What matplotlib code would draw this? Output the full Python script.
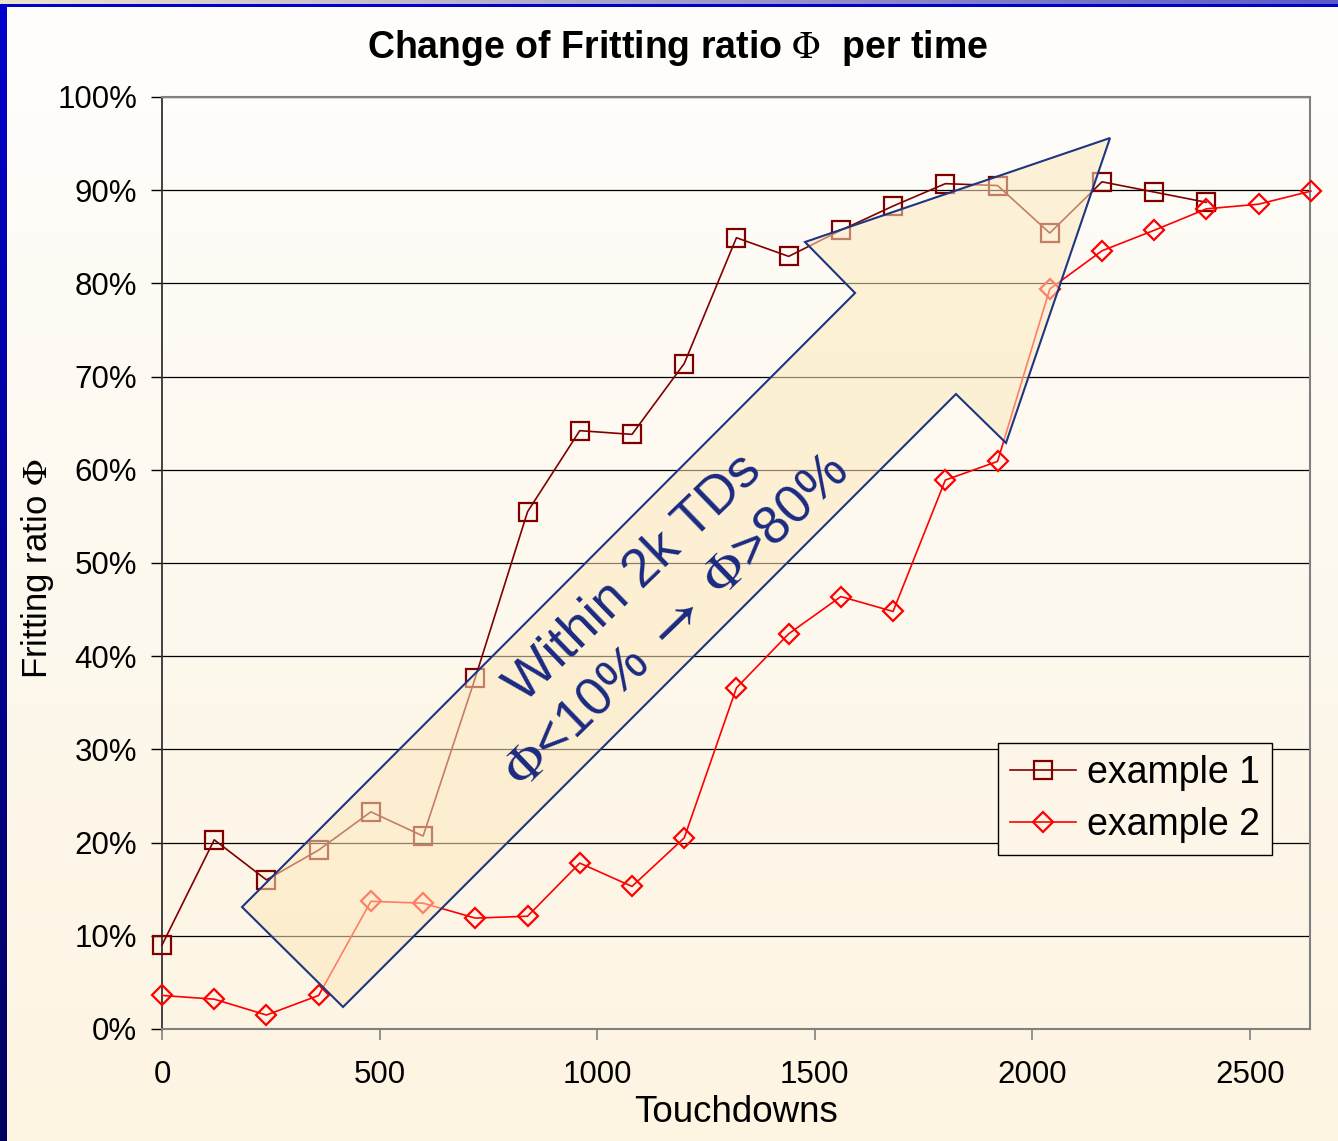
import numpy as np
import matplotlib
matplotlib.use('Agg')
import matplotlib.pyplot as plt
from matplotlib.patches import Polygon

plt.rcParams['font.family'] = ['Liberation Sans', 'DejaVu Sans']
plt.rcParams['mathtext.fontset'] = 'stix'

# ---------------- data ----------------
touchdowns_1 = [0, 120, 240, 360, 480, 600, 720, 840, 960, 1080, 1200,
                1320, 1440, 1560, 1680, 1800, 1920, 2040, 2160, 2280, 2400]
ratio_1 = [9.0, 20.3, 16.0, 19.2, 23.3, 20.7, 37.7, 55.5, 64.2, 63.8, 71.4,
           84.9, 82.9, 85.7, 88.3, 90.7, 90.5, 85.4, 90.9, 89.8, 88.7]

touchdowns_2 = [0, 120, 240, 360, 480, 600, 720, 840, 960, 1080, 1200,
                1320, 1440, 1560, 1680, 1800, 1920, 2040, 2160, 2280, 2400,
                2520, 2640]
ratio_2 = [3.6, 3.2, 1.5, 3.6, 13.7, 13.5, 11.9, 12.1, 17.8, 15.3, 20.5,
           36.6, 42.4, 46.4, 44.8, 58.9, 60.9, 79.4, 83.5, 85.7, 88.0,
           88.5, 89.9]

series_names = ['example 1', 'example 2']
x_ticks = [0, 500, 1000, 1500, 2000, 2500]
y_ticks = [0, 10, 20, 30, 40, 50, 60, 70, 80, 90, 100]
y_tick_labels = [f'{v}%' for v in y_ticks]

title_text = 'Change of Fritting ratio $\\Phi$  per time'
xlabel_text = 'Touchdowns'
ylabel_text = 'Fritting ratio $\\Phi$'
arrow_text = 'Within 2k TDs\n$\\Phi$<10% $\\mathbf{\\rightarrow}$ $\\Phi$>80%'

# arrow annotation outline (axes fraction)
ARROW_SHAPE = [(0.0697, 0.1309), (0.6037, 0.7897), (0.5601, 0.8444),
               (0.8258, 0.9560), (0.7352, 0.6288), (0.6916, 0.6813),
               (0.1577, 0.0236)]

# ---------------- figure ----------------
W, H = 1338, 1141
fig = plt.figure(figsize=(W / 100, H / 100), dpi=100)

# background gradient with blue frame
bg = fig.add_axes([0, 0, 1, 1])
bg.axis('off')
t = np.linspace(0, 1, H)[:, None, None]
top = np.array([255, 254, 252]) / 255
bot = np.array([253, 244, 226]) / 255
img = np.ones((H, W, 3)) * (top * (1 - t) + bot * t)
tt = np.linspace(0, 1, H)[:, None]
blue_top = np.array([0, 0, 205]) / 255
blue_bot = np.array([0, 0, 95]) / 255
img[:, 0:7, :] = (blue_top * (1 - tt) + blue_bot * tt)[:, None, :]
sx = np.linspace(0, 1, W)[:, None]
beige = np.array([238, 228, 205]) / 255
lav = np.array([90, 90, 200]) / 255
img[0:4, :, :] = (beige * (1 - sx) + lav * sx)[None, :, :]
img[4:7, 7:, :] = np.array([0, 0, 200]) / 255
bg.imshow(img, extent=[0, 1, 0, 1], aspect='auto', interpolation='nearest',
          origin='upper')
bg.set_xlim(0, 1)
bg.set_ylim(0, 1)

ax = fig.add_axes([162 / W, 1 - 1029 / H, 1148 / W, 932 / H])
ax.set_facecolor('none')
ax.set_xlim(0, 2638)
ax.set_ylim(0, 100)

ax.set_yticks(y_ticks)
ax.set_yticklabels(y_tick_labels)
ax.set_xticks(x_ticks)
ax.grid(axis='y', color='black', linewidth=0.9)
ax.set_axisbelow(True)

for side in ['top', 'right', 'bottom']:
    ax.spines[side].set_color('#808080')
    ax.spines[side].set_linewidth(1.5)
ax.spines['left'].set_color('#333333')
ax.spines['left'].set_linewidth(1.3)

ax.tick_params(axis='y', direction='out', length=8, width=1.0, color='black',
               labelsize=22.5, pad=10)
ax.tick_params(axis='x', direction='out', length=8, width=1.2, color='#808080',
               labelsize=22.5, pad=14)

l1, = ax.plot(touchdowns_1, ratio_1, color='#800000', linewidth=1.2,
              marker='s', markersize=12.5, markerfacecolor='none',
              markeredgewidth=1.6, clip_on=False, zorder=3,
              label=series_names[0])
l2, = ax.plot(touchdowns_2, ratio_2, color='#ff0000', linewidth=1.2,
              marker='D', markersize=10.5, markerfacecolor='none',
              markeredgewidth=1.6, clip_on=False, zorder=3,
              label=series_names[1])

arrow = Polygon(ARROW_SHAPE, closed=True, transform=ax.transAxes,
                facecolor=(252 / 255, 232 / 255, 188 / 255, 0.55),
                edgecolor='#1f3580', linewidth=1.5, zorder=5, clip_on=False)
ax.add_patch(arrow)

ax.text(0.4294, 0.4603, arrow_text, transform=ax.transAxes, rotation=44,
        rotation_mode='anchor', ha='center', va='center',
        multialignment='center', fontsize=38.5, color='#1a2a80',
        linespacing=1.3, zorder=6)

leg = ax.legend(handles=[l1, l2], loc='upper left',
                bbox_to_anchor=(998 / W, 1 - 743 / H),
                bbox_transform=fig.transFigure, borderaxespad=0,
                fontsize=27, frameon=True, fancybox=False,
                edgecolor='black', facecolor='#fdf6e8', framealpha=1,
                handlelength=1.75, handletextpad=0.3, labelspacing=0.42,
                borderpad=0.32)
leg.get_frame().set_linewidth(1.0)
leg.set_zorder(10)

fig.text(678 / W, 1 - 48 / H, title_text, ha='center', va='center',
         fontsize=27, fontweight='bold')
fig.text(38 / W, 1 - 569 / H, ylabel_text, rotation=90, ha='center',
         va='center', fontsize=25)
fig.text(736 / W, 1 - 1113 / H, xlabel_text, ha='center', va='center',
         fontsize=26.5)

fig.savefig('out.png', dpi=100)
